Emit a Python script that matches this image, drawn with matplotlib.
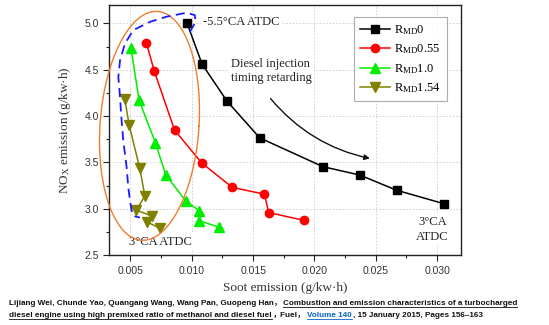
import matplotlib
matplotlib.use("Agg")
import matplotlib.pyplot as plt
import numpy as np
from matplotlib.ticker import MultipleLocator, FormatStrFormatter

plt.rcParams["mathtext.fontset"] = "custom"
plt.rcParams["mathtext.rm"] = "Liberation Serif"
plt.rcParams["mathtext.it"] = "Liberation Serif:italic"

SERIF = "Liberation Serif"
SANS = "Liberation Sans"

# ── data: soot (g/kW·h), NOx (g/kW·h) ───────────────────────────────────
labels = [r"R$_{\mathrm{MD}}$0", r"R$_{\mathrm{MD}}$0.55",
          r"R$_{\mathrm{MD}}$1.0", r"R$_{\mathrm{MD}}$1.54"]
soot_0 = [0.00962, 0.01084, 0.01288, 0.01554, 0.0207, 0.0237, 0.0267, 0.0306]
nox_0 = [5.00, 4.56, 4.16, 3.765, 3.454, 3.364, 3.20, 3.053]
soot_055 = [0.0063, 0.00693, 0.00859, 0.01081, 0.01331, 0.01592, 0.01627, 0.01913]
nox_055 = [4.79, 4.49, 3.85, 3.494, 3.23, 3.158, 2.959, 2.876]
soot_10 = [0.00505, 0.0057, 0.00704, 0.00788, 0.00951, 0.01062, 0.01062, 0.01225]
nox_10 = [4.73, 4.17, 3.71, 3.364, 3.085, 2.977, 2.87, 2.80]
soot_154 = [0.00454, 0.0049, 0.00576, 0.00617, 0.00549, 0.00677, 0.00636, 0.00739]
nox_154 = [4.18, 3.90, 3.435, 3.14, 2.985, 2.92, 2.858, 2.79]

series = [(soot_0, nox_0, "#000000", "s", 5.5),
          (soot_055, nox_055, "#ff0000", "o", 6.0),
          (soot_10, nox_10, "#00ee00", "^", 6.5),
          (soot_154, nox_154, "#808000", "v", 6.5)]

# hand-drawn dashed guide around the first injection timing
guide_x = [0.00984, 0.01032, 0.01024, 0.00957, 0.00794, 0.00659, 0.00523,
           0.00455, 0.00415, 0.00401, 0.00409, 0.00428, 0.00441, 0.00469,
           0.00482, 0.00496, 0.0051, 0.00523, 0.00577]
guide_y = [4.909, 5.017, 5.090, 5.115, 5.072, 5.017, 4.927, 4.783, 4.602,
           4.421, 4.307, 3.952, 3.736, 3.446, 3.230, 3.089, 2.978, 2.923, 2.905]

fig = plt.figure(figsize=(5.49, 3.25), dpi=100)
ax = fig.add_axes([0.199, 0.215, 0.641, 0.770])

for (xs, ys, col, mk, ms), lab in zip(series, labels):
    ax.plot(xs, ys, color=col, lw=1.1, marker=mk, ms=ms, mec=col, mfc=col,
            label=lab, zorder=4)

# orange ellipse (slightly sheared), not clipped by the axes
t = np.linspace(0, 2 * np.pi, 300)
ex = 0.00655 + 0.00404 * np.cos(t) + 0.00054 * np.sin(t)
ey = 3.895 + 1.235 * np.sin(t)
ax.plot(ex, ey, color="#ed7d31", lw=1.0, clip_on=False, zorder=5)

ax.plot(guide_x, guide_y, color="#1a1aff", lw=1.3, ls=(0, (5, 3)), zorder=5)

ax.set_xlim(0.00327, 0.03196)
ax.set_ylim(2.5, 5.2)
ax.xaxis.set_major_locator(MultipleLocator(0.005))
ax.xaxis.set_minor_locator(MultipleLocator(0.0025))
ax.yaxis.set_major_locator(MultipleLocator(0.5))
ax.yaxis.set_minor_locator(MultipleLocator(0.25))
ax.xaxis.set_major_formatter(FormatStrFormatter("%.3f"))
ax.yaxis.set_major_formatter(FormatStrFormatter("%.1f"))
ax.tick_params(which="both", direction="out", top=False, right=False,
               colors="#222222", labelsize=7.5, width=0.8)
ax.tick_params(which="major", length=4)
ax.tick_params(which="minor", length=2.5)
for lab in ax.get_xticklabels() + ax.get_yticklabels():
    lab.set_family(SANS)
    lab.set_color("#333333")
for sp in ax.spines.values():
    sp.set_linewidth(1.0)
    sp.set_color("#222222")
ax.grid(True, which="major", color="#cccccc", ls=(0, (2, 2)), lw=0.6)
ax.set_axisbelow(True)

ax.set_xlabel("Soot emission (g/kw·h)", family=SERIF, fontsize=9.5,
              color="#333333", labelpad=5)
ax.set_ylabel(r"NO$_{\mathrm{X}}$ emission (g/kw·h)", family=SERIF,
              fontsize=9.5, color="#333333", labelpad=8)

leg = ax.legend(loc="upper right", bbox_to_anchor=(0.977, 0.977),
                prop={"family": SERIF, "size": 9}, frameon=True,
                fancybox=False, edgecolor="#999999", handlelength=2.4,
                labelspacing=0.45, borderpad=0.5, handletextpad=0.3)
leg.get_frame().set_linewidth(0.8)

box = dict(facecolor="white", edgecolor="none", pad=1.5)
ax.text(0.01092, 5.01, "-5.5°CA ATDC", family=SERIF, fontsize=9,
        ha="left", va="center", color="#222222", bbox=box, zorder=3)
ax.text(0.01323, 4.483, "Diesel injection\ntiming retarding", family=SERIF,
        fontsize=9, ha="left", va="center", color="#222222", bbox=box,
        linespacing=1.2, zorder=3)
ax.text(0.00746, 2.645, "3°CA ATDC", family=SERIF, fontsize=9,
        ha="center", va="center", color="#222222", bbox=box, zorder=3)
ax.text(0.02962, 2.775, "3°CA\nATDC", family=SERIF, fontsize=9,
        ha="center", va="center", color="#222222", bbox=box,
        linespacing=1.3, zorder=3)
ax.annotate("", xy=(0.02474, 3.537), xytext=(0.01628, 4.212),
            arrowprops=dict(arrowstyle="-|>", color="#111111", lw=1.0,
                            mutation_scale=8,
                            connectionstyle="arc3,rad=0.18"))

# ── caption with underlined title and link ──────────────────────────────
cap_font = dict(family=[SANS, "Noto Sans CJK SC"], fontsize=5.85,
                weight="bold")
cap_lines = [
    [("Lijiang Wei, Chunde Yao, Quangang Wang, Wang Pan, Guopeng Han，",
      "#111111", False),
     ("Combustion and emission characteristics of a turbocharged",
      "#111111", True)],
    [("diesel engine using high premixed ratio of methanol and diesel fuel",
      "#111111", True),
     ("，Fuel，", "#111111", False),
     ("Volume 140", "#0563c1", True),
     (", 15 January 2015, Pages 156–163", "#111111", False)],
]
renderer = fig.canvas.get_renderer()
inv = fig.transFigure.inverted()
for row, yfig in zip(cap_lines, [0.062, 0.025]):
    x = 9 / 549
    for txt, col, under in row:
        tt = fig.text(x, yfig, txt, color=col, ha="left", va="baseline",
                      **cap_font)
        bb = tt.get_window_extent(renderer)
        (x0, _), (x1, _) = inv.transform([[bb.x0, bb.y0], [bb.x1, bb.y1]])
        if under:
            fig.add_artist(plt.Line2D([x0, x1], [yfig - 0.008] * 2,
                                      color=col, lw=0.6,
                                      transform=fig.transFigure))
        x = x1 + 0.002

fig.savefig("out.png", dpi=100, facecolor="white")
